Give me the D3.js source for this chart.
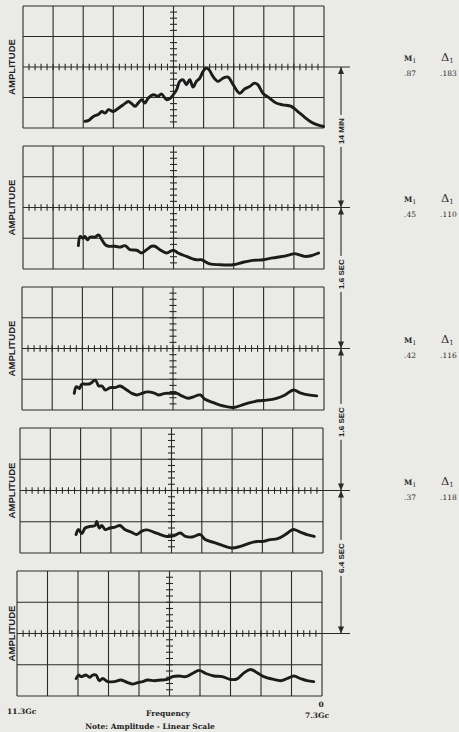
<!DOCTYPE html>
<html>
  <head>
    <meta charset="utf-8">
    <title>Spectrum amplitude traces</title>
    <script src="https://d3js.org/d3.v7.min.js"></script>
    <style>
      body { margin: 0; background: #eaeae7; }
      svg { display: block; }
      .grid line { stroke: #2a2a2a; stroke-width: 1.1; }
      .trace { fill: none; stroke: #1c1c1c; stroke-width: 2.9; stroke-linecap: round; stroke-linejoin: round; }
      .amp { font-family: "Liberation Sans", Arial, sans-serif; font-weight: bold; font-size: 8.5px; fill: #222; }
      .interval { font-family: "Liberation Sans", Arial, sans-serif; font-weight: bold; font-size: 8px; fill: #222; }
      .stat { font-family: "DejaVu Serif", serif; font-size: 7.5px; fill: #2a2a2a; }
      .foot { font-family: "DejaVu Serif", serif; font-weight: bold; font-size: 7.5px; fill: #222; }
    </style>
  </head>
  <body>
    <svg id="chart" width="459" height="732"></svg>
    <script>
      // traces: [grid division along frequency, grid division of amplitude from bottom]
      var trace1 = [[2.06,0.22],[2.18,0.25],[2.34,0.38],[2.5,0.44],[2.62,0.54],[2.73,0.49],[2.84,0.6],[3.0,0.54],
        [3.17,0.65],[3.33,0.76],[3.5,0.87],[3.61,0.8],[3.72,0.71],[3.83,0.82],[3.94,0.93],[4.05,0.82],[4.16,0.98],
        [4.33,1.09],[4.49,1.04],[4.6,1.12],[4.77,0.93],[4.9,0.98],[4.99,1.09],[5.1,1.25],[5.21,1.53],[5.32,1.58],
        [5.43,1.42],[5.54,1.58],[5.65,1.34],[5.76,1.53],[5.87,1.63],[5.98,1.85],[6.07,1.96],[6.18,1.91],[6.31,1.69],
        [6.48,1.53],[6.64,1.63],[6.81,1.67],[6.98,1.42],[7.2,1.14],[7.36,1.28],[7.53,1.36],[7.69,1.47],[7.8,1.42],
        [7.97,1.14],[8.19,0.98],[8.41,0.82],[8.63,0.76],[8.91,0.71],[9.13,0.54],[9.35,0.36],[9.57,0.2],[9.79,0.1],[9.98,0.05]];
      var trace2 = [[1.84,0.76],[1.9,1.06],[1.99,1.0],[2.06,1.06],[2.14,0.95],[2.23,1.04],[2.4,1.04],[2.51,1.11],
        [2.62,0.95],[2.73,0.79],[2.84,0.74],[3.06,0.74],[3.22,0.71],[3.39,0.76],[3.55,0.63],[3.78,0.61],[3.94,0.52],
        [4.11,0.63],[4.27,0.74],[4.38,0.74],[4.55,0.63],[4.77,0.52],[4.99,0.61],[5.15,0.52],[5.43,0.41],[5.76,0.3],
        [5.93,0.3],[6.2,0.17],[6.53,0.14],[6.98,0.14],[7.31,0.22],[7.64,0.28],[7.97,0.3],[8.3,0.36],[8.63,0.41],
        [8.85,0.46],[9.02,0.5],[9.18,0.46],[9.35,0.41],[9.57,0.43],[9.82,0.52]];
      var trace3 = [[1.73,0.54],[1.8,0.76],[1.9,0.7],[1.98,0.84],[2.13,0.84],[2.26,0.86],[2.43,0.97],[2.54,0.78],
        [2.65,0.78],[2.76,0.65],[2.92,0.73],[3.09,0.73],[3.25,0.78],[3.47,0.65],[3.64,0.54],[3.81,0.49],[3.97,0.54],
        [4.14,0.59],[4.36,0.56],[4.52,0.49],[4.74,0.54],[4.96,0.54],[5.13,0.54],[5.29,0.46],[5.51,0.38],[5.68,0.43],
        [5.9,0.49],[6.06,0.35],[6.34,0.24],[6.67,0.13],[7.0,0.08],[7.28,0.16],[7.55,0.24],[7.83,0.3],[8.1,0.32],
        [8.43,0.38],[8.71,0.49],[8.99,0.65],[9.21,0.56],[9.48,0.49],[9.76,0.46]];
      var trace4 = [[1.85,0.59],[1.93,0.75],[2.04,0.62],[2.15,0.8],[2.31,0.85],[2.48,0.88],[2.53,1.01],[2.62,0.8],
        [2.7,0.88],[2.81,0.75],[2.97,0.8],[3.14,0.83],[3.3,0.88],[3.46,0.75],[3.69,0.66],[3.85,0.59],[4.02,0.7],
        [4.19,0.74],[4.41,0.67],[4.63,0.59],[4.85,0.53],[5.07,0.55],[5.29,0.64],[5.46,0.53],[5.68,0.51],[5.95,0.59],
        [6.11,0.43],[6.39,0.34],[6.72,0.23],[6.99,0.16],[7.27,0.21],[7.54,0.3],[7.82,0.37],[8.04,0.37],[8.26,0.43],
        [8.48,0.45],[8.76,0.59],[9.01,0.75],[9.25,0.67],[9.47,0.59],[9.71,0.53]];
      var trace5 = [[1.94,0.56],[2.02,0.67],[2.1,0.62],[2.27,0.67],[2.38,0.6],[2.48,0.67],[2.59,0.67],[2.7,0.49],
        [2.81,0.56],[2.97,0.46],[3.19,0.46],[3.41,0.51],[3.63,0.43],[3.79,0.38],[3.96,0.43],[4.12,0.46],[4.28,0.51],
        [4.5,0.49],[4.72,0.51],[4.93,0.53],[5.1,0.62],[5.31,0.64],[5.53,0.62],[5.75,0.72],[5.97,0.82],[6.19,0.72],
        [6.46,0.64],[6.73,0.62],[7.0,0.53],[7.22,0.55],[7.44,0.74],[7.66,0.85],[7.88,0.74],[8.09,0.62],[8.42,0.53],
        [8.64,0.49],[8.86,0.56],[9.08,0.64],[9.29,0.56],[9.51,0.49],[9.73,0.46]];
      var traces = [trace1, trace2, trace3, trace4, trace5];

      // annotations
      var m1Values = [".87", ".45", ".42", ".37"];
      var delta1Values = [".183", ".110", ".116", ".118"];
      var intervals = ["14 MIN", "1.6 SEC", "1.6 SEC", "6.4 SEC"];
      var freqStart = "11.3Gc";
      var freqEnd = "7.3Gc";
      var freqZero = "0";

      // panel boxes, as photographed
      var panels = [
        { top: 6, bottom: 128, left: 23, right: 324 },
        { top: 146, bottom: 269, left: 23, right: 324 },
        { top: 287, bottom: 410, left: 22, right: 324 },
        { top: 428, bottom: 553, left: 20, right: 323 },
        { top: 571, bottom: 696, left: 17, right: 322 }
      ];
      var markerX = 341;
      var paper = "#eaeae7";

      var chart = d3.select("#chart");
      chart.append("rect").attr("width", 459).attr("height", 732).attr("fill", paper);

      var centres = [];
      panels.forEach(function(p, i) {
        var x = d3.scaleLinear().domain([0, 10]).range([p.left, p.right]);
        var y = d3.scaleLinear().domain([0, 4]).range([p.bottom, p.top]);
        var cy = y(2);
        centres.push(cy);
        var g = chart.append("g").attr("class", "grid");
        // grid
        g.selectAll(".v").data(d3.range(0, 11)).enter().append("line")
          .attr("x1", function(d) { return x(d); }).attr("x2", function(d) { return x(d); })
          .attr("y1", y(0)).attr("y2", y(4));
        g.selectAll(".h").data(d3.range(0, 5)).enter().append("line")
          .attr("x1", x(0)).attr("x2", function(d) { return d === 2 ? 350 : x(10); })
          .attr("y1", function(d) { return y(d); }).attr("y2", function(d) { return y(d); });
        // centre axis ticks
        g.selectAll(".tx").data(d3.range(0.2, 10, 0.2)).enter().append("line")
          .attr("x1", function(d) { return x(d); }).attr("x2", function(d) { return x(d); })
          .attr("y1", cy - 3.3).attr("y2", cy + 3.3);
        g.selectAll(".ty").data(d3.range(0.2, 4, 0.2)).enter().append("line")
          .attr("x1", x(5) - 3.5).attr("x2", x(5) + 3.5)
          .attr("y1", function(d) { return y(d); }).attr("y2", function(d) { return y(d); });
        // trace
        var line = d3.line()
          .x(function(d) { return x(d[0]); })
          .y(function(d) { return y(d[1]); })
          .curve(d3.curveCatmullRom.alpha(0.5));
        chart.append("path").datum(traces[i]).attr("class", "trace").attr("d", line);
        // amplitude label
        chart.append("text").attr("class", "amp")
          .attr("transform", "translate(15," + cy + ") rotate(-90)")
          .attr("text-anchor", "middle")
          .attr("textLength", 56).attr("lengthAdjust", "spacingAndGlyphs")
          .text("AMPLITUDE");
      });

      // time markers on the right
      var marker = chart.append("g").attr("class", "grid");
      marker.append("line").attr("x1", markerX).attr("x2", markerX)
        .attr("y1", centres[0]).attr("y2", centres[4]);
      function arrow(tipY, dir) {
        marker.append("path")
          .attr("d", "M" + markerX + "," + tipY + "L" + (markerX - 3) + "," + (tipY + dir * 7) +
            "L" + (markerX + 3) + "," + (tipY + dir * 7) + "Z")
          .attr("fill", "#2a2a2a");
      }
      centres.forEach(function(c, i) {
        if (i > 0) arrow(c, -1);
        if (i < centres.length - 1) arrow(c, 1);
      });
      var labelY = [131, 274, 422, 558];
      intervals.forEach(function(t, i) {
        var lab = chart.append("g").attr("transform", "translate(" + (markerX + 3) + "," + labelY[i] + ") rotate(-90)");
        var txt = lab.append("text").attr("class", "interval").attr("text-anchor", "middle").text(t);
        var bb = txt.node().getBBox();
        lab.insert("rect", "text").attr("x", bb.x - 3).attr("y", bb.y).attr("width", bb.width + 6)
          .attr("height", bb.height).attr("fill", paper);
      });

      // M1 and delta1 values
      m1Values.forEach(function(v, i) {
        var c = centres[i];
        var m = chart.append("text").attr("class", "stat").attr("x", 404).attr("y", c - 6);
        m.append("tspan").attr("font-weight", "bold").text("M");
        m.append("tspan").attr("dy", 2).attr("font-size", "6.5px").text("1");
        var d = chart.append("text").attr("class", "stat").attr("x", 441).attr("y", c - 6);
        d.append("tspan").attr("font-size", "11.5px").text("\u0394");
        d.append("tspan").attr("dy", 2).attr("font-size", "7px").text("1");
        chart.append("text").attr("class", "stat").attr("x", 404).attr("y", c + 9).text(v);
        chart.append("text").attr("class", "stat").attr("x", 440).attr("y", c + 9).text(delta1Values[i]);
      });

      // footer
      chart.append("text").attr("class", "foot").attr("x", 7).attr("y", 714).text(freqStart);
      chart.append("text").attr("class", "foot").attr("x", 168).attr("y", 716).attr("text-anchor", "middle").text("Frequency");
      chart.append("text").attr("class", "foot").attr("x", 321).attr("y", 707).attr("text-anchor", "middle").text(freqZero);
      chart.append("text").attr("class", "foot").attr("x", 317).attr("y", 718).attr("text-anchor", "middle").text(freqEnd);
      chart.append("text").attr("class", "foot").attr("x", 150).attr("y", 729).attr("text-anchor", "middle")
        .text("Note: Amplitude - Linear Scale");
    </script>
  </body>
</html>
